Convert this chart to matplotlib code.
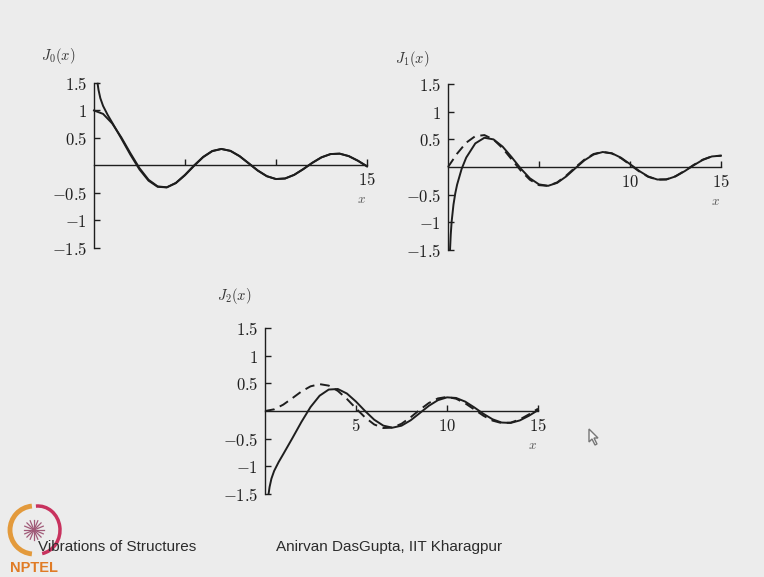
import math
import matplotlib
matplotlib.use("Agg")
import matplotlib.pyplot as plt
from matplotlib.patches import Arc, Polygon

# ---------- Data ---------- #
x_exact = [0, 0.5, 1, 1.5, 2, 2.5, 3, 3.5, 4, 4.5, 5, 5.5, 6, 6.5, 7, 7.5,
           8, 8.5, 9, 9.5, 10, 10.5, 11, 11.5, 12, 12.5, 13, 13.5, 14, 14.5, 15]
j0 = [1.000, 0.938, 0.765, 0.512, 0.224, -0.048, -0.260, -0.380, -0.397, -0.321,
      -0.178, -0.007, 0.151, 0.260, 0.300, 0.266, 0.172, 0.042, -0.090, -0.194,
      -0.246, -0.237, -0.171, -0.068, 0.048, 0.147, 0.207, 0.215, 0.171, 0.088, -0.014]
j1 = [0, 0.242, 0.440, 0.558, 0.577, 0.497, 0.339, 0.137, -0.066, -0.231,
      -0.328, -0.341, -0.277, -0.154, -0.005, 0.135, 0.235, 0.273, 0.245, 0.161,
      0.043, -0.079, -0.177, -0.228, -0.223, -0.166, -0.070, 0.038, 0.133, 0.193, 0.205]
j2 = [0, 0.031, 0.115, 0.232, 0.353, 0.446, 0.486, 0.459, 0.364, 0.218,
      0.047, -0.117, -0.243, -0.307, -0.301, -0.230, -0.113, 0.022, 0.145, 0.228,
      0.255, 0.222, 0.139, 0.028, -0.085, -0.173, -0.218, -0.209, -0.152, -0.061, 0.042]

# asymptotic (large-x) approximations, solid lines
x_asym = [0.2, 0.25, 0.35, 0.5, 0.75, 1, 1.5, 2, 2.5, 3, 3.5, 4, 4.5, 5, 5.5, 6,
          6.5, 7, 7.5, 8, 8.5, 9, 9.5, 10, 10.5, 11, 11.5, 12, 12.5, 13, 13.5,
          14, 14.5, 15]
a0 = [1.487, 1.373, 1.223, 1.083, 0.921, 0.780, 0.492, 0.197, -0.072, -0.277,
      -0.388, -0.398, -0.316, -0.170, 0.001, 0.157, 0.264, 0.301, 0.265, 0.168,
      0.038, -0.094, -0.196, -0.247, -0.236, -0.170, -0.065, 0.050, 0.149, 0.208,
      0.215, 0.170, 0.086, -0.016]
a2 = [-1.487, -1.373, -1.223, -1.083, -0.921, -0.780, -0.492, -0.197, 0.072, 0.277,
      0.388, 0.398, 0.316, 0.170, -0.001, -0.157, -0.264, -0.301, -0.265, -0.168,
      -0.038, 0.094, 0.196, 0.247, 0.236, 0.170, 0.065, -0.050, -0.149, -0.208,
      -0.215, -0.170, -0.086, 0.016]
x_asym1 = [0.11, 0.15, 0.2, 0.3, 0.4, 0.5, 0.75, 1, 1.5, 2, 2.5, 3, 3.5, 4, 4.5,
           5, 5.5, 6, 6.5, 7, 7.5, 8, 8.5, 9, 9.5, 10, 10.5, 11, 11.5, 12, 12.5,
           13, 13.5, 14, 14.5, 15]
a1 = [-1.500, -1.222, -0.986, -0.680, -0.474, -0.318, -0.033, 0.170, 0.427, 0.529,
      0.499, 0.369, 0.177, -0.029, -0.204, -0.314, -0.340, -0.286, -0.169, -0.021,
      0.122, 0.226, 0.271, 0.249, 0.169, 0.053, -0.070, -0.171, -0.226, -0.225,
      -0.170, -0.076, 0.032, 0.129, 0.191, 0.205]

y_ticks = [1.5, 1, 0.5, -0.5, -1, -1.5]
y_ticklabels = ["$1.5$", "$1$", "$0.5$", "$-0.5$", "$-1$", "$-1.5$"]
x_ticks = [5, 10, 15]
x_labels_j0 = ["", "", "$15$"]
x_labels_j1 = ["", "$10$", "$15$"]
x_labels_j2 = ["$5$", "$10$", "$15$"]

# ---------- Style ---------- #
plt.rcParams["mathtext.fontset"] = "cm"
BG = "#ececec"
INK = "#1e1e1e"

fig = plt.figure(figsize=(7.64, 5.77), dpi=100, facecolor=BG)


def bessel_axes(rect, xticklabels, ylabel, label_pos):
    ax = fig.add_axes(rect)
    ax.set_facecolor("none")
    ax.set_xlim(0, 15)
    ax.set_ylim(-1.5, 1.5)
    for s in ["top", "right"]:
        ax.spines[s].set_visible(False)
    ax.spines["bottom"].set_position(("data", 0))
    for s in ["left", "bottom"]:
        ax.spines[s].set_color(INK)
        ax.spines[s].set_linewidth(1.0)
    ax.set_yticks(y_ticks)
    ax.set_yticklabels(y_ticklabels, fontsize=12, color=INK)
    ax.set_xticks(x_ticks)
    ax.set_xticklabels(xticklabels, fontsize=12, color=INK)
    ax.tick_params(axis="y", direction="in", length=4, width=1.0, pad=5, colors=INK)
    ax.tick_params(axis="x", direction="in", length=4, width=1.0, pad=4, colors=INK)
    ax.text(14.7, -0.62, "$x$", fontsize=9.5, color="#555555", ha="center", va="center")
    ax.text(label_pos[0], label_pos[1], ylabel, transform=ax.transAxes,
            fontsize=10.5, color="#333333", ha="center", va="center")
    return ax


# ---------- J0 ---------- #
ax0 = bessel_axes([0.1230, 0.5702, 0.3573, 0.2860], x_labels_j0,
                  r"$J_0(x)$", (-0.132, 1.165))
ax0.plot(x_exact, j0, color=INK, lw=1.4, clip_on=False)
ax0.plot(x_asym, a0, color=INK, lw=1.4, clip_on=False)

# ---------- J1 ---------- #
ax1 = bessel_axes([0.5864, 0.5667, 0.3573, 0.2877], x_labels_j1,
                  r"$J_1(x)$", (-0.132, 1.15))
ax1.plot(x_exact, j1, color=INK, lw=1.4, ls=(0, (5, 3)), clip_on=False)
ax1.plot(x_asym1, a1, color=INK, lw=1.4, clip_on=False)

# ---------- J2 ---------- #
ax2 = bessel_axes([0.3469, 0.1438, 0.3573, 0.2877], x_labels_j2,
                  r"$J_2(x)$", (-0.114, 1.19))
ax2.plot(x_exact, j2, color=INK, lw=1.4, ls=(0, (5, 3)), clip_on=False)
ax2.plot(x_asym, a2, color=INK, lw=1.4, clip_on=False)

# ---------- Slide footer (pixel coordinates) ---------- #
over = fig.add_axes([0, 0, 1, 1], zorder=-1)
over.set_xlim(0, 764)
over.set_ylim(577, 0)
over.axis("off")

over.add_patch(Arc((34, 530), 48, 48, theta1=95, theta2=265, color="#e39a3c", lw=3.5))
over.add_patch(Arc((38, 530), 44, 48, theta1=-95, theta2=80, color="#c8325e", lw=2.5))
for k in range(8):
    t = k * math.pi / 8
    dx, dy = 10 * math.cos(t), 10 * math.sin(t)
    over.plot([34 - dx, 34 + dx], [530 - dy, 530 + dy], color="#a05a78", lw=0.9)
over.text(10, 568, "NPTEL", fontsize=10.5, fontweight="bold", color="#e07b25",
          ha="left", va="center", family="Liberation Sans")
over.text(38, 547, "Vibrations of Structures", fontsize=11, color="#2c2c2c",
          ha="left", va="center", family="Liberation Sans")
over.text(276, 547, "Anirvan DasGupta, IIT Kharagpur", fontsize=11, color="#2c2c2c",
          ha="left", va="center", family="Liberation Sans")

# mouse cursor left on the slide
over.add_patch(Polygon([(589, 429), (589, 442), (592, 439), (595, 445), (597, 444),
                        (594, 438), (598, 438)], closed=True,
                       facecolor="#f4f4f4", edgecolor="#777777", lw=1))

fig.savefig("out.png", dpi=100, facecolor=BG)
